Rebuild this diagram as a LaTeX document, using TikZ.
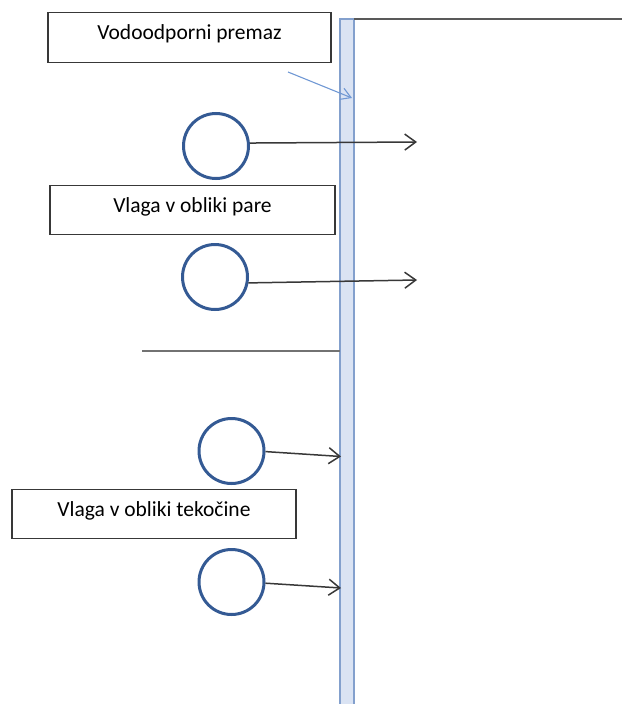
\documentclass[tikz,border=0pt]{standalone}
\usepackage{fontspec}
\setmainfont{Carlito}
\usetikzlibrary{arrows.meta}

\definecolor{wallfill}{RGB}{218,227,243}
\definecolor{wallline}{RGB}{131,160,205}
\definecolor{ringblue}{RGB}{52,90,148}
\definecolor{ink}{RGB}{56,56,56}
\definecolor{edgegray}{RGB}{89,89,89}
\definecolor{pointerblue}{RGB}{112,152,212}

\tikzset{
  labelbox/.style={draw=ink, line width=1.2pt, fill=white, inner sep=0pt,
    minimum height=49.5pt, text height=13pt, text depth=9pt,
    font=\fontsize{21.5}{25}\selectfont},
  drop/.style={circle, draw=ringblue, line width=3pt, minimum size=65pt, inner sep=0pt},
  flow/.style={draw=ink, line width=1.5pt, -{Straight Barb[length=11pt, width=16pt, line width=1.5pt]}},
  pointer/.style={draw=pointerblue, line width=1.1pt, -{Straight Barb[length=10pt, width=12pt, line width=1.1pt]}}
}

\begin{document}
\begin{tikzpicture}[x=1pt, y=-1pt]
\useasboundingbox (0,0) rectangle (622,704);

% coated wall
\fill[wallfill] (340,19) rectangle (354,704);
\draw[wallline, line width=1.6pt] (340,704) -- (340,19) -- (354,19) -- (354,704);
% outline of the building above ground
\draw[edgegray, line width=1.6pt] (354,19) -- (622,19);
% ground level
\draw[edgegray!85, line width=2pt] (142,351) coordinate (groundL) -- (340,351) coordinate (groundR);

% labels
\node[labelbox, minimum width=283pt] (coat) at (189.5,37.5) {Vodoodporni premaz};
\node[labelbox, minimum width=285pt] (vapour) at (192.5,210) {Vlaga v obliki pare};
\node[labelbox, minimum width=284pt] (liquid) at (154,514) {Vlaga v obliki tekočine};

% moisture drops
\node[drop] (d1) at (216,146) {};
\node[drop] (d2) at (215,277) {};
\node[drop] (d3) at (231.5,451) {};
\node[drop] (d4) at (231.5,582) {};

% end points of the flows
\coordinate (v1) at (417,142);
\coordinate (v2) at (417,280);
\coordinate (w3) at (341,456.5);
\coordinate (w4) at (341,588);
\coordinate (ptail) at (288,72);
\coordinate (ptip) at (352,98);

% vapour passes through the coating
\draw[flow] (d1.5) -- (v1);
\draw[flow] (d2.-10) -- (v2);
% liquid stops at the coating
\draw[flow] (d3.-1) -- (w3);
\draw[flow] (d4.-2) -- (w4);

% pointer to the coating
\draw[pointer] (ptail) -- (ptip);
\end{tikzpicture}
\end{document}
